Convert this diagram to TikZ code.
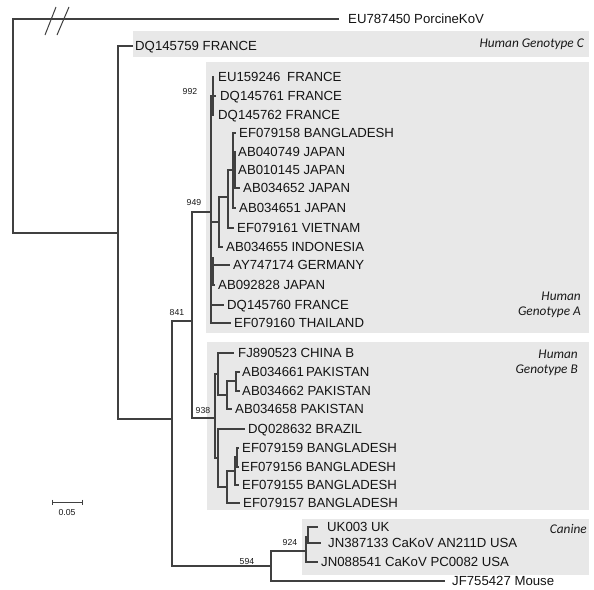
\documentclass[tikz,border=0pt]{standalone}
\usepackage{fontspec}
\setmainfont{Liberation Sans}
\newfontfamily\calfont{Carlito}
\definecolor{boxgray}{RGB}{232,232,232}
\begin{document}
\begin{tikzpicture}[x=1pt,y=-1pt,
  br/.style={draw=black!75, line width=1.1pt},
  thk/.style={draw=black!75, line width=2.2pt},
  lf/.style={anchor=west, inner sep=0pt, text height=9.3pt, text depth=0pt, font=\fontsize{13.2}{15}\selectfont, text=black!92},
  bs/.style={inner sep=0pt, font=\fontsize{8.7}{10}\selectfont, text=black!90},
  cl/.style={inner sep=0pt, align=right, font=\calfont\itshape\fontsize{13.3}{15}\selectfont, text=black!90},
  cbox/.style={fill=boxgray, draw=none}]
\useasboundingbox (0,0) rectangle (594,589);
% clade boxes
\path[cbox] (133,31) rectangle (589,57);
\path[cbox] (206,62) rectangle (589,333);
\path[cbox] (207,342) rectangle (589,510);
\path[cbox] (302,519) rectangle (589,575);
% clade labels
\node[cl, anchor=east] (gC) at (584,44) {Human Genotype C};
\node[cl, anchor=east] (gA) at (581,305) {Human\\Genotype A};
\node[cl, anchor=east] (gB) at (578,363) {Human\\Genotype B};
\node[cl, anchor=east] (gK) at (587,529) {Canine};
% internal nodes
\coordinate (root) at (13,126);
\coordinate (n118) at (118,233);
\coordinate (n172) at (172,419);
\coordinate (n192) at (192,321);
\coordinate (nA) at (211,212);
\coordinate (nA1) at (213,96);
\coordinate (nN3) at (219,222);
\coordinate (nN2) at (228,197);
\coordinate (nN1) at (233,170);
\coordinate (nN1b) at (235,170);
\coordinate (nA2) at (213,275);
\coordinate (nB) at (215,418);
\coordinate (nB1) at (218,374);
\coordinate (nB1a) at (227,395);
\coordinate (nB1b) at (236,381);
\coordinate (nB2) at (218,458);
\coordinate (nB2a) at (227,487);
\coordinate (nB2b) at (235,471);
\coordinate (nB2c) at (237,457);
\coordinate (nCM) at (271,566);
\coordinate (nCan) at (306,551);
\coordinate (nCan1) at (308,537);
% tips
\coordinate (tPor) at (339,19);
\coordinate (tDQ59) at (133,46);
\coordinate (tEU) at (214,77);
\coordinate (tDQ61) at (216,96);
\coordinate (tDQ62) at (214,115);
\coordinate (tEF58) at (236,133);
\coordinate (tAB49) at (236,152);
\coordinate (tAB45) at (236,170);
\coordinate (tAB52) at (240,188);
\coordinate (tAB51) at (236,208);
\coordinate (tEF61) at (234,228);
\coordinate (tAB55) at (223,247);
\coordinate (tAY) at (230,265);
\coordinate (tAB28) at (215,285);
\coordinate (tDQ60) at (224,305);
\coordinate (tEF60) at (231,323);
\coordinate (tFJ) at (234,353);
\coordinate (tAB61) at (240,372);
\coordinate (tAB62) at (240,391);
\coordinate (tAB58) at (232,409);
\coordinate (tDQ32) at (245,429);
\coordinate (tEF59) at (239,448);
\coordinate (tEF56) at (239,467);
\coordinate (tEF55) at (239,485);
\coordinate (tEF57) at (240,503);
\coordinate (tUK) at (318,527);
\coordinate (tJN33) at (321,543);
\coordinate (tJN41) at (318,562);
\coordinate (tMouse) at (445,581);
% leaf labels
\node[lf] (Por) at (348,19) {EU787450 PorcineKoV};
\node[lf] (DQ59) at (135,46) {DQ145759 FRANCE};
\node[lf] (EU) at (218,77) {EU159246\hspace{3pt} FRANCE};
\node[lf] (DQ61) at (220,96) {DQ145761 FRANCE};
\node[lf] (DQ62) at (218,115) {DQ145762 FRANCE};
\node[lf] (EF58) at (239,133) {EF079158 BANGLADESH};
\node[lf] (AB49) at (238,152) {AB040749 JAPAN};
\node[lf] (AB45) at (238,170) {AB010145 JAPAN};
\node[lf] (AB52) at (243,188) {AB034652 JAPAN};
\node[lf] (AB51) at (239,208) {AB034651 JAPAN};
\node[lf] (EF61) at (237,228) {EF079161 VIETNAM};
\node[lf] (AB55) at (226,247) {AB034655 INDONESIA};
\node[lf] (AY) at (233,265) {AY747174 GERMANY};
\node[lf] (AB28) at (218,285) {AB092828 JAPAN};
\node[lf] (DQ60) at (227,305) {DQ145760 FRANCE};
\node[lf] (EF60) at (234,323) {EF079160 THAILAND};
\node[lf] (FJ) at (238,353) {FJ890523 CHINA B};
\node[lf] (AB61) at (242,372) {AB034661\hspace{-1.5pt} PAKISTAN};
\node[lf] (AB62) at (242,391) {AB034662 PAKISTAN};
\node[lf] (AB58) at (235,409) {AB034658 PAKISTAN};
\node[lf] (DQ32) at (248,429) {DQ028632 BRAZIL};
\node[lf] (EF59) at (242,448) {EF079159 BANGLADESH};
\node[lf] (EF56) at (241,467) {EF079156 BANGLADESH};
\node[lf] (EF55) at (242,485) {EF079155 BANGLADESH};
\node[lf] (EF57) at (243,503) {EF079157 BANGLADESH};
\node[lf] (UK) at (327,527) {UK003 UK};
\node[lf] (JN33) at (328,543) {JN387133 CaKoV AN211D USA};
\node[lf] (JN41) at (321,562) {JN088541 CaKoV PC0082 USA};
\node[lf] (Mouse) at (452,581) {JF755427 Mouse};
% branches
\draw[br] (root) |- (tPor);
\draw[br] (root) |- (n118);
\draw[br] (n118) |- (tDQ59);
\draw[br] (n118) |- (n172);
\draw[br] (n172) |- (n192);
\draw[br] (n172) |- (nCM);
\draw[br] (n192) |- (nA);
\draw[br] (n192) |- (nB);
% genotype A
\draw[br] (nA) |- (nA1);
\draw[br] (nA1) |- (tEU);
\draw[br] (nA1) |- (tDQ61);
\draw[br] (nA1) |- (tDQ62);
\draw[thk] (tEU -| nA1) -- (tDQ62 -| nA1);
\draw[br] (nA) |- (nN3);
\draw[br] (nN3) |- (nN2);
\draw[br] (nN3) |- (tAB55);
\draw[br] (nN2) |- (nN1);
\draw[br] (nN2) |- (tEF61);
\draw[br] (nN1) |- (tEF58);
\draw[br] (nN1) |- (nN1b);
\draw[br] (nN1) |- (tAB51);
\draw[br] (nN1b) |- (tAB49);
\draw[br] (nN1b) |- (tAB45);
\draw[br] (nN1b) |- (tAB52);
\draw[thk, line width=1.8pt] (tAB49 -| nN1b) -- (tAB52 -| nN1b);
\draw[br] (nA) |- (nA2);
\draw[br] (nA2) |- (tAY);
\draw[br] (nA2) |- (tAB28);
\draw[thk] ([yshift=8pt]tAY -| nA2) -- (tAB28 -| nA2);
\draw[br] (nA) |- (tDQ60);
\draw[br] (nA) |- (tEF60);
% genotype B
\draw[br] (nB) |- (nB1);
\draw[br] (nB) |- (nB2);
\draw[br] (nB1) |- (tFJ);
\draw[br] (nB1) |- (nB1a);
\draw[br] (nB1a) |- (nB1b);
\draw[br] (nB1a) |- (tAB58);
\draw[br] (nB1b) |- (tAB61);
\draw[br] (nB1b) |- (tAB62);
\draw[br] (nB2) |- (tDQ32);
\draw[br] (nB2) |- (nB2a);
\draw[br] (nB2a) |- (nB2b);
\draw[br] (nB2a) |- (tEF57);
\draw[br] (nB2b) |- (nB2c);
\draw[br] (nB2b) |- (tEF55);
\draw[br] (nB2c) |- (tEF59);
\draw[br] (nB2c) |- (tEF56);
% canine and mouse
\draw[br] (nCM) |- (nCan);
\draw[br] (nCM) |- (tMouse);
\draw[br] (nCan) |- (nCan1);
\draw[br] (nCan) |- (tJN41);
\draw[br] (nCan1) |- (tUK);
\draw[br] (nCan1) |- (tJN33);
% break marks
\coordinate (bk1a) at (45,35); \coordinate (bk1b) at (56,7);
\coordinate (bk2a) at (57,35); \coordinate (bk2b) at (69,7);
\draw[br, line width=1pt] (bk1a) -- (bk1b);
\draw[br, line width=1pt] (bk2a) -- (bk2b);
% bootstrap values
\node[bs] (b992) at (190,92) {992};
\node[bs] (b949) at (194,203) {949};
\node[bs] (b841) at (177,313) {841};
\node[bs] (b938) at (203,410) {938};
\node[bs] (b924) at (290,542) {924};
\node[bs] (b594) at (247,561) {594};
% scale bar
\coordinate (sb1) at (52,502);
\coordinate (sb2) at (82,502);
\draw[br, line width=0.9pt] (sb1) -- (sb2);
\draw[br, line width=0.9pt] ([yshift=2.5pt]sb1) -- ([yshift=-2.5pt]sb1);
\draw[br, line width=0.9pt] ([yshift=2.5pt]sb2) -- ([yshift=-2.5pt]sb2);
\node[bs] (sbl) at (67,512) {0.05};
\end{tikzpicture}
\end{document}
